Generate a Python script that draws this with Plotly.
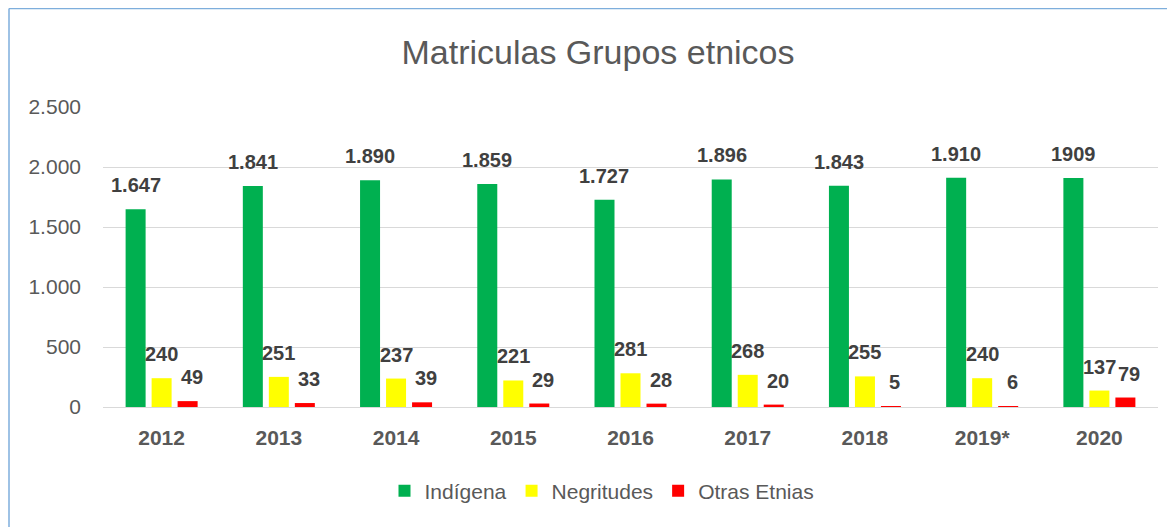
import plotly.graph_objects as go

years = ["2012", "2013", "2014", "2015", "2016", "2017", "2018", "2019*", "2020"]
indigena = [1647, 1841, 1890, 1859, 1727, 1896, 1843, 1910, 1909]
indigena_labels = ["1.647", "1.841", "1.890", "1.859", "1.727", "1.896", "1.843", "1.910", "1909"]
negritudes = [240, 251, 237, 221, 281, 268, 255, 240, 137]
otras = [49, 33, 39, 29, 28, 20, 5, 6, 79]

series = [
    ("Indígena", indigena, indigena_labels, "#00B050"),
    ("Negritudes", negritudes, [str(v) for v in negritudes], "#FFFF00"),
    ("Otras Etnias", otras, [str(v) for v in otras], "#FF0000"),
]

FONT = "Liberation Sans, Arial, sans-serif"
# page has an 8px body margin: figure coords = reference coords - 8
W, H = 1167, 519
ML, MR, MT, MB = 95, 17, 99, 120
plot_w = W - ML - MR
plot_h = H - MT - MB
BARGAP = 0.3345
slot = plot_w / len(years) * (1 - BARGAP) / 3
xpos = list(range(len(years)))

fig = go.Figure()
annotations = []
for i, (name, vals, labels, color) in enumerate(series):
    fig.add_trace(go.Bar(name=name, x=xpos, y=vals, marker_color=color,
                         marker_line_width=0))
    for x, v, lab in zip(xpos, vals, labels):
        annotations.append(dict(
            x=x, y=v, xref="x", yref="y", text=lab, showarrow=False,
            xshift=(i - 1) * slot + (4 if i == 2 else 0), yshift=24, yanchor="middle",
            font=dict(family=FONT, size=20, color="#404040", weight="bold"),
        ))

border = "#7EAEDC"
yb = H - MB  # pixel y of plot bottom
top_py = 0.5
left_px = 1.0
shapes = [
    dict(type="line", xref="paper", yref="paper",
         x0=(left_px - ML) / plot_w, x1=(W + 10 - ML) / plot_w,
         y0=(yb - top_py) / plot_h, y1=(yb - top_py) / plot_h,
         line=dict(color=border, width=1.5)),
    dict(type="line", xref="paper", yref="paper",
         x0=(left_px - ML) / plot_w, x1=(left_px - ML) / plot_w,
         y0=(yb - top_py) / plot_h, y1=(yb - H - 10) / plot_h,
         line=dict(color=border, width=1.5)),
]

fig.update_layout(
    width=W, height=H,
    margin=dict(l=ML, r=MR, t=MT, b=MB, autoexpand=False),
    paper_bgcolor="white", plot_bgcolor="white",
    separators=",.",
    barmode="group", bargap=BARGAP, bargroupgap=0.2308,
    title=dict(text="Matriculas Grupos etnicos", x=(590 - ML) / plot_w, xref="paper",
               xanchor="center", y=1 - 44 / H, yref="container", yanchor="middle",
               font=dict(family=FONT, size=34, color="#595959")),
    font=dict(family=FONT, color="#595959"),
    yaxis=dict(range=[0, 2500], dtick=500, tickformat=",d", showgrid=True,
               gridcolor="#D9D9D9", gridwidth=1, zeroline=True, zerolinecolor="#D9D9D9",
               zerolinewidth=1, tickfont=dict(family=FONT, size=21, color="#595959"),
               ticks="", ticklabelstandoff=21, showline=False, automargin=False),
    xaxis=dict(range=[-0.5, len(years) - 0.5], tickvals=xpos, ticktext=years,
               tickfont=dict(family=FONT, size=21, color="#595959", weight="bold"),
               ticks="", showline=True, linecolor="#D9D9D9", linewidth=1,
               showgrid=False, zeroline=False, ticklabelstandoff=12, automargin=False),
    legend=dict(orientation="h", x=(594 - ML) / plot_w, xanchor="center",
                y=(yb - 483) / plot_h, yanchor="middle",
                font=dict(family=FONT, size=21, color="#595959"),
                itemwidth=30, traceorder="normal"),
    annotations=annotations,
    shapes=shapes,
)

fig.write_html("out.html")
